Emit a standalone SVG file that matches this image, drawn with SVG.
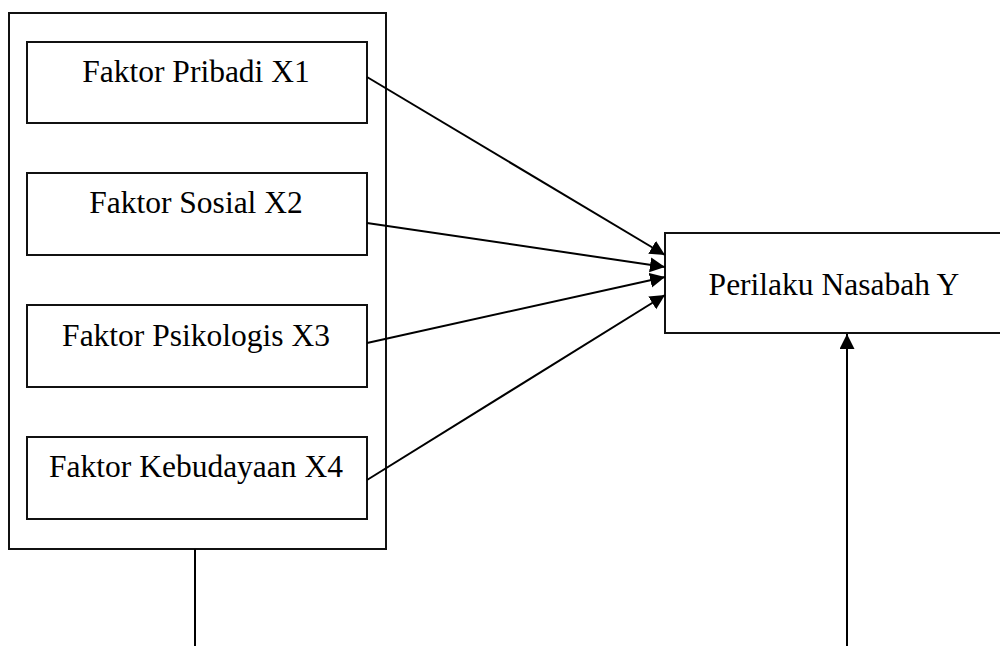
<svg xmlns="http://www.w3.org/2000/svg" width="1000" height="646" viewBox="0 0 1000 646">
<style>
  .box { fill: #ffffff; stroke: #111111; stroke-width: 2; }
  .lbl { font-family: "Liberation Serif", "Times New Roman", serif; font-size: 31.5px; fill: #000000; }
  .edge { stroke: #000000; stroke-width: 2; fill: none; }
</style>
<defs>
  <marker id="arrow" markerUnits="userSpaceOnUse" markerWidth="18" markerHeight="18" refX="15" refY="7.5" orient="auto">
    <path d="M0,0 L15,7.5 L0,15 Z" fill="#000000"/>
  </marker>
</defs>
<rect width="1000" height="646" fill="#ffffff"/>
<g id="group-x">
  <rect class="box" x="9" y="13" width="377" height="536"/>
</g>
<g id="x1">
  <rect class="box" x="27" y="42" width="340" height="81"/>
  <text class="lbl" x="196" y="82" text-anchor="middle">Faktor Pribadi X1</text>
</g>
<g id="x2">
  <rect class="box" x="27" y="173" width="340" height="82"/>
  <text class="lbl" x="196" y="213" text-anchor="middle">Faktor Sosial X2</text>
</g>
<g id="x3">
  <rect class="box" x="27" y="305" width="340" height="82"/>
  <text class="lbl" x="196" y="346" text-anchor="middle">Faktor Psikologis X3</text>
</g>
<g id="x4">
  <rect class="box" x="27" y="437" width="340" height="82"/>
  <text class="lbl" x="196" y="477" text-anchor="middle">Faktor Kebudayaan X4</text>
</g>
<g id="y">
  <rect class="box" x="665" y="233" width="345" height="100"/>
  <text class="lbl" x="834" y="295" text-anchor="middle">Perilaku Nasabah Y</text>
</g>
<g id="connectors">
  <line class="edge" x1="367" y1="77" x2="665" y2="255" marker-end="url(#arrow)"/>
  <line class="edge" x1="367" y1="223" x2="665" y2="267" marker-end="url(#arrow)"/>
  <line class="edge" x1="367" y1="343" x2="665" y2="277" marker-end="url(#arrow)"/>
  <line class="edge" x1="367" y1="480" x2="665" y2="295" marker-end="url(#arrow)"/>
  <line class="edge" x1="195" y1="549" x2="195" y2="646"/>
  <line class="edge" x1="847" y1="646" x2="847" y2="334" marker-end="url(#arrow)"/>
</g>
</svg>
